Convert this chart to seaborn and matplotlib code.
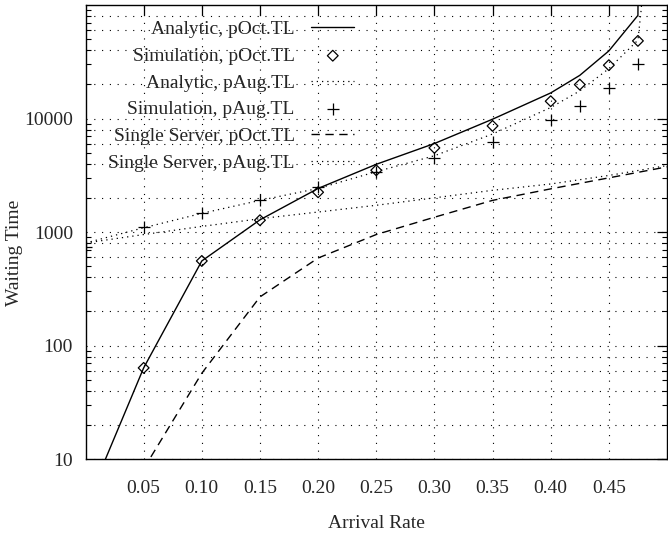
import numpy as np
import pandas as pd
import matplotlib
matplotlib.use("Agg")
import matplotlib.pyplot as plt
import seaborn as sns
from matplotlib.ticker import FixedLocator, NullFormatter, FixedFormatter

# ---------------- data ----------------
x_an_oct = [0.0, 0.05, 0.10, 0.15, 0.20, 0.25, 0.30, 0.35, 0.40, 0.425, 0.45, 0.475, 0.4765]
y_an_oct = [3.8, 63.5, 556, 1280, 2420, 3950, 6020, 9860, 16800, 24000, 39400, 81000, 1e7]

x_sim_oct = [0.05, 0.10, 0.15, 0.20, 0.25, 0.30, 0.35, 0.40, 0.425, 0.45, 0.475]
y_sim_oct = [63.5, 556, 1270, 2240, 3500, 5510, 8610, 14200, 19900, 29500, 48300]

x_an_aug = [0.0, 0.05, 0.10, 0.15, 0.20, 0.25, 0.30, 0.35, 0.40, 0.425, 0.45, 0.475, 0.478, 0.479]
y_an_aug = [800, 1090, 1460, 1900, 2420, 3400, 4700, 7300, 12500, 17500, 27500, 49000, 95000, 1e7]

x_sim_aug = [0.0, 0.05, 0.10, 0.15, 0.20, 0.25, 0.30, 0.35, 0.40, 0.425, 0.45, 0.475]
y_sim_aug = [740, 1100, 1475, 1920, 2500, 3400, 4450, 6220, 9800, 13000, 18750, 30000]

x_ss_oct = [0.05, 0.10, 0.15, 0.20, 0.25, 0.30, 0.35, 0.40, 0.45, 0.50]
y_ss_oct = [8.2, 57, 268, 590, 950, 1350, 1900, 2400, 3000, 3750]

x_ss_aug = [0.0, 0.05, 0.10, 0.15, 0.20, 0.25, 0.30, 0.35, 0.40, 0.45, 0.50]
y_ss_aug = [800, 950, 1120, 1310, 1500, 1720, 2000, 2330, 2650, 3150, 3850]

labels = ["Analytic, pOct.TL", "Simulation, pOct.TL", "Analytic, pAug.TL",
          "Simulation, pAug.TL", "Single Server, pOct.TL", "Single Server, pAug.TL"]

x_ticks = [0.05, 0.10, 0.15, 0.20, 0.25, 0.30, 0.35, 0.40, 0.45]
x_ticklabels = ["0.05", "0.10", "0.15", "0.20", "0.25", "0.30", "0.35", "0.40", "0.45"]
y_ticks = [10, 100, 1000, 10000]
y_ticklabels = ["10", "100", "1000", "10000"]

# ---------------- style ----------------
sns.set_style("white")
plt.rcParams["font.family"] = ["Liberation Serif", "DejaVu Serif"]
FS = 14

fig = plt.figure(figsize=(6.68, 5.33), dpi=100)
ax = fig.add_axes([0.128, 0.1388, 0.9985 - 0.128, 0.9906 - 0.1388])
ax.set_yscale("log")

# grid (gnuplot style dotted at majors and 2,4,6,8 minors)
grid_kw = dict(color="black", lw=0.8, dashes=(1, 6), zorder=0)
for k in range(1, 5):
    for m in (1, 2, 4, 6, 8):
        v = m * 10 ** k
        if 10 <= v <= 1e5:
            ax.axhline(v, **grid_kw)
for xv in x_ticks:
    ax.axvline(xv, **grid_kw)

# lines
sns.lineplot(x=x_an_oct, y=y_an_oct, ax=ax, color="black", lw=1.0,
             estimator=None, sort=False, label=labels[0])
sns.scatterplot(x=x_sim_oct, y=y_sim_oct, ax=ax, marker="D", s=30, label=labels[1])
c_d = ax.collections[-1]
sns.lineplot(x=x_an_aug, y=y_an_aug, ax=ax, color="black", lw=0.9, dashes=(1, 3.2),
             estimator=None, sort=False, label=labels[2])
sns.scatterplot(x=x_sim_aug, y=y_sim_aug, ax=ax, marker="+", s=81, color="black",
                label=labels[3])
c_p = ax.collections[-1]
sns.lineplot(x=x_ss_oct, y=y_ss_oct, ax=ax, color="black", lw=1.0, dashes=(6, 4),
             estimator=None, sort=False, label=labels[4])
sns.lineplot(x=x_ss_aug, y=y_ss_aug, ax=ax, color="black", lw=0.9, dashes=(1, 3.2),
             estimator=None, sort=False, label=labels[5])

c_d.set_facecolor("none")
c_d.set_edgecolor("black")
c_d.set_linewidth(0.9)
c_p.set_facecolor("black")
c_p.set_edgecolor("black")
c_p.set_linewidth(0.9)

ax.set_xlim(0.0, 0.5)
ax.set_ylim(10, 1e5)

ax.xaxis.set_major_locator(FixedLocator(x_ticks))
ax.xaxis.set_major_formatter(FixedFormatter(x_ticklabels))
ax.yaxis.set_major_locator(FixedLocator(y_ticks))
ax.yaxis.set_major_formatter(FixedFormatter(y_ticklabels))
ax.yaxis.set_minor_locator(FixedLocator([m * 10 ** k for k in range(1, 5) for m in range(2, 10)]))
ax.yaxis.set_minor_formatter(NullFormatter())

ax.tick_params(axis="both", which="major", direction="in", length=7, width=0.9,
               top=True, right=True, labelsize=FS, color="black")
ax.tick_params(axis="y", which="minor", direction="in", length=3.5, width=0.8,
               left=True, right=True, color="black")
ax.tick_params(axis="x", which="major", pad=15)
ax.tick_params(axis="y", which="major", pad=9)

for sp in ax.spines.values():
    sp.set_visible(True)
    sp.set_color("black")
    sp.set_linewidth(1.0)

ax.set_xlabel("Arrival Rate", fontsize=FS, labelpad=13)
ax.set_ylabel("Waiting Time", fontsize=FS)
ax.yaxis.set_label_coords(-0.108, 0.454)

leg = ax.legend(loc="upper right", bbox_to_anchor=(0.462, 0.966), frameon=False,
                markerfirst=False, fontsize=FS, handlelength=2.2, handletextpad=0.85,
                labelspacing=0.47, borderpad=0, borderaxespad=0)

fig.savefig("out.png", dpi=100)
